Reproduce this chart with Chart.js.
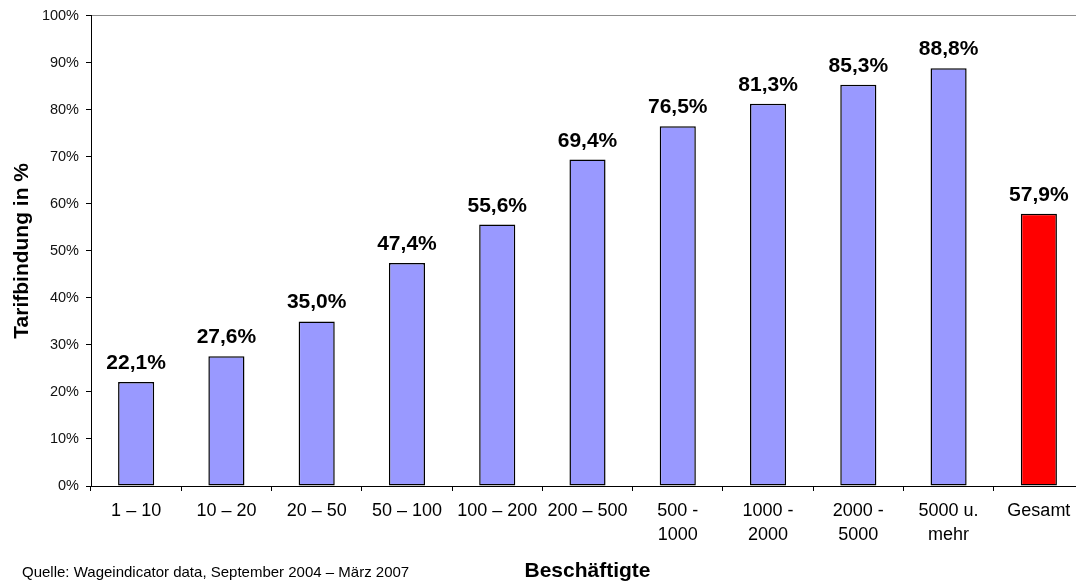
<!DOCTYPE html>
<html lang="de">
<head>
<meta charset="utf-8">
<title>Tarifbindung nach Betriebsgröße</title>
<script src="https://cdn.jsdelivr.net/npm/chart.js@4/dist/chart.umd.min.js"></script>
<style>
  html, body { margin: 0; padding: 0; background: #fff; overflow: hidden; }
  #wrap { position: relative; width: 1076px; height: 582px; overflow: hidden; }
  canvas { display: block; }
</style>
</head>
<body>
<div id="wrap"><canvas id="chart" width="1100" height="582"></canvas></div>
<script>
// Betriebsgrößenklassen (Beschäftigte)
const categories = [
  '1 – 10', '10 – 20', '20 – 50', '50 – 100', '100 – 200', '200 – 500',
  ['500 -', '1000'], ['1000 -', '2000'], ['2000 -', '5000'], ['5000 u.', 'mehr'], 'Gesamt'
];
// Tarifbindung in Prozent
const coverage = [22.1, 27.6, 35.0, 47.4, 55.6, 69.4, 76.5, 81.3, 85.3, 88.8, 57.9];
const barColors = ['#9999FF', '#9999FF', '#9999FF', '#9999FF', '#9999FF', '#9999FF',
                   '#9999FF', '#9999FF', '#9999FF', '#9999FF', '#FF0000'];
const yTicks = [0, 10, 20, 30, 40, 50, 60, 70, 80, 90, 100];
const sourceNote = 'Quelle: Wageindicator data, September 2004 – März 2007';

const FONT = "'Liberation Sans', Arial, Helvetica, sans-serif";

const fmt = v => v.toFixed(1).replace('.', ',') + '%';

// Prozentwerte über den Säulen
const valueLabels = {
  id: 'valueLabels',
  afterDatasetsDraw(chart) {
    const { ctx } = chart;
    const meta = chart.getDatasetMeta(0);
    ctx.save();
    ctx.font = `bold 21px ${FONT}`;
    ctx.fillStyle = '#000';
    ctx.textAlign = 'center';
    ctx.textBaseline = 'alphabetic';
    meta.data.forEach((bar, i) => {
      ctx.fillText(fmt(coverage[i]), bar.x, bar.y - 13);
    });
    ctx.restore();
  }
};

// Quellenangabe unten links
const sourceText = {
  id: 'sourceText',
  afterDraw(chart) {
    const { ctx } = chart;
    ctx.save();
    ctx.font = `15px ${FONT}`;
    ctx.fillStyle = '#000';
    ctx.textAlign = 'left';
    ctx.textBaseline = 'alphabetic';
    ctx.fillText(sourceNote, 22, 577);
    ctx.restore();
  }
};

new Chart(document.getElementById('chart'), {
  type: 'bar',
  data: {
    labels: categories,
    datasets: [{
      data: coverage,
      backgroundColor: barColors,
      borderColor: '#000',
      borderWidth: 1.5,
      borderSkipped: false,
      barPercentage: 0.4,
      categoryPercentage: 1.0
    }]
  },
  options: {
    responsive: false,
    animation: false,
    devicePixelRatio: 1,
    layout: { padding: { left: 0, right: 16, top: 15, bottom: 0 } },
    plugins: {
      legend: { display: false },
      tooltip: { enabled: false }
    },
    scales: {
      x: {
        grid: {
          offset: true,
          color: 'rgba(0,0,0,0)',
          tickColor: '#000',
          tickLength: 5,
          lineWidth: 1
        },
        border: { display: true, color: '#000', width: 1 },
        ticks: {
          color: '#000',
          padding: 9,
          maxRotation: 0,
          autoSkip: false,
          font: { family: FONT, size: 18, lineHeight: 1.28 }
        },
        title: {
          display: true,
          text: 'Beschäftigte',
          color: '#000',
          font: { family: FONT, size: 21, weight: 'bold', lineHeight: 1.0 },
          padding: { top: 0, bottom: 0 }
        },
        afterFit(scale) { scale.height = 96; }
      },
      y: {
        min: 0,
        max: 100,
        afterBuildTicks(scale) { scale.ticks = yTicks.map(v => ({ value: v })); },
        grid: {
          color: ctx => (ctx.tick && ctx.tick.value === 100) ? '#8c8c8c' : 'rgba(0,0,0,0)',
          tickColor: '#000',
          tickLength: 5,
          lineWidth: 1
        },
        border: { display: true, color: '#000', width: 1 },
        ticks: {
          color: '#111',
          padding: 7,
          callback: v => v + '%',
          font: { family: FONT, size: 14.5 }
        },
        title: {
          display: true,
          text: 'Tarifbindung in %',
          color: '#000',
          font: { family: FONT, size: 21, weight: 'bold', lineHeight: 1.2 },
          padding: { top: 10, bottom: 0 }
        },
        afterFit(scale) { scale.width = 91; }
      }
    }
  },
  plugins: [valueLabels, sourceText]
});
</script>
</body>
</html>
